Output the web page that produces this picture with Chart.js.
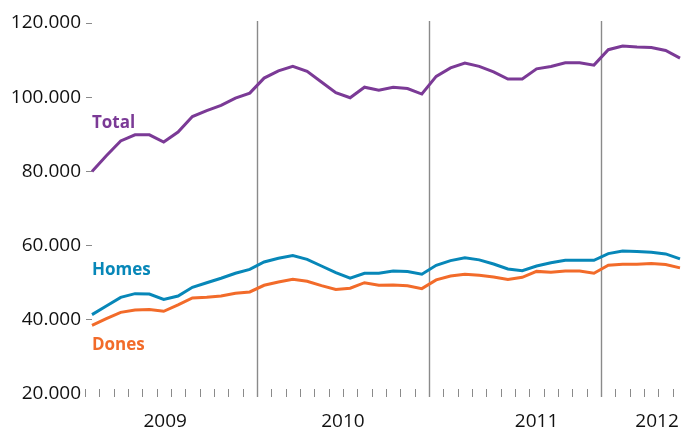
<!DOCTYPE html>
<html>
<head>
<meta charset="utf-8">
<script src="https://cdn.jsdelivr.net/npm/chart.js@4"></script>
<style>
  html, body { margin: 0; padding: 0; background: #fff; }
  #wrap { width: 683px; height: 428px; position: relative; }
</style>
</head>
<body>
<div id="wrap"><canvas id="chart"></canvas></div>
<script>
// Data (monthly, Jan 2009 - Jun 2012)
const years = ['2009', '2010', '2011', '2012'];
const monthNames = ['gen', 'febr', 'març', 'abr', 'maig', 'juny', 'jul', 'ag', 'set', 'oct', 'nov', 'des'];
const months = [];
years.forEach(y => monthNames.forEach(m => months.push(m + ' ' + y)));
months.length = 42;

const total = [
    80000, 84200, 88200, 89850, 89850, 87900, 90600, 94800, 96400, 97800, 99750, 101100,
    105150, 107100, 108300, 106950, 104100, 101200, 99850, 102700, 101900, 102700, 102350, 100850,
    105600, 107900, 109200, 108300, 106850, 104900, 104900, 107650, 108300, 109300, 109300, 108650,
    112800, 113800, 113500, 113400, 112600, 110550
];
const homes = [
    41400, 43700, 46050, 47050, 46950, 45500, 46400, 48750, 50000, 51200, 52550, 53600,
    55600, 56600, 57300, 56300, 54500, 52700, 51200, 52550, 52550, 53150, 53000, 52300,
    54700, 55950, 56700, 56150, 55050, 53700, 53250, 54500, 55400, 56050, 56050, 56050,
    57850, 58550, 58400, 58200, 57750, 56400
];
const dones = [
    38500, 40300, 42000, 42650, 42800, 42300, 44000, 45900, 46050, 46400, 47150, 47500,
    49300, 50200, 50900, 50400, 49200, 48200, 48500, 50000, 49300, 49400, 49200, 48400,
    50750, 51800, 52250, 52000, 51550, 50900, 51450, 53050, 52800, 53150, 53150, 52550,
    54700, 54950, 54950, 55150, 54900, 54000
];
const yTicks = [20000, 40000, 60000, 80000, 100000, 120000];

const PURPLE = '#7b3a96';
const BLUE = '#0787b8';
const ORANGE = '#f26b2a';
const GREY = '#8a8a8a';
const FONT = '"Open Sans", "Noto Sans", sans-serif';

// where the year names sit (in month-index units) and the series tags
const yearLabelAt = [5.1, 17.5, 31, 39.4];
const tags = [
    { text: 'Total', color: PURPLE, at: 91700 },
    { text: 'Homes', color: BLUE, at: 52100 },
    { text: 'Dones', color: ORANGE, at: 31900 }
];

const thousands = v => String(v).replace(/\B(?=(\d{3})+(?!\d))/g, '.');

// month ticks, year separators, year names and series tags
const decor = {
    id: 'decor',
    beforeDatasetsDraw(chart) {
        const { ctx, scales: { x, y } } = chart;
        const base = y.getPixelForValue(20000);
        ctx.save();
        ctx.strokeStyle = GREY;
        for (let i = 0; i < months.length; i++) {
            const px = Math.round(x.getPixelForValue(i - 0.5)) + 0.5;
            const yearStart = i > 0 && i % 12 === 0;
            ctx.lineWidth = yearStart ? 1.4 : 1;
            ctx.beginPath();
            ctx.moveTo(px, yearStart ? 21 : base - 5);
            ctx.lineTo(px, base + 3);
            ctx.stroke();
        }
        ctx.restore();
    },
    afterDatasetsDraw(chart) {
        const { ctx, scales: { x, y } } = chart;
        ctx.save();
        ctx.fillStyle = '#111';
        ctx.font = '19px ' + FONT;
        ctx.textAlign = 'center';
        ctx.textBaseline = 'alphabetic';
        years.forEach((yr, i) => {
            ctx.fillText(yr, x.getPixelForValue(yearLabelAt[i]), 427);
        });
        ctx.font = 'bold 17px ' + FONT;
        ctx.textAlign = 'left';
        tags.forEach(t => {
            ctx.fillStyle = t.color;
            ctx.fillText(t.text, x.getPixelForValue(0), y.getPixelForValue(t.at));
        });
        ctx.restore();
    }
};

const line = (data, color) => ({
    data: data,
    borderColor: color,
    borderWidth: 3,
    pointRadius: 0,
    tension: 0,
    fill: false
});

new Chart(document.getElementById('chart'), {
    type: 'line',
    data: {
        labels: months,
        datasets: [line(total, PURPLE), line(homes, BLUE), line(dones, ORANGE)]
    },
    options: {
        responsive: true,
        maintainAspectRatio: false,
        animation: false,
        layout: { padding: { top: 23, right: 3, bottom: 34, left: 0 } },
        plugins: { legend: { display: false }, tooltip: { enabled: false } },
        scales: {
            x: { display: false },
            y: {
                min: 20000,
                max: 120000,
                afterBuildTicks: axis => { axis.ticks = yTicks.map(v => ({ value: v })); },
                afterFit: axis => { axis.width = 92; },
                border: { display: false },
                grid: {
                    drawOnChartArea: false,
                    tickLength: 6,
                    color: c => (c.tick && c.tick.value === 20000) ? 'rgba(0,0,0,0)' : GREY
                },
                ticks: {
                    padding: 5,
                    color: '#111',
                    font: { family: FONT, size: 19 },
                    callback: v => thousands(v)
                }
            }
        }
    },
    plugins: [decor]
});
</script>
</body>
</html>
